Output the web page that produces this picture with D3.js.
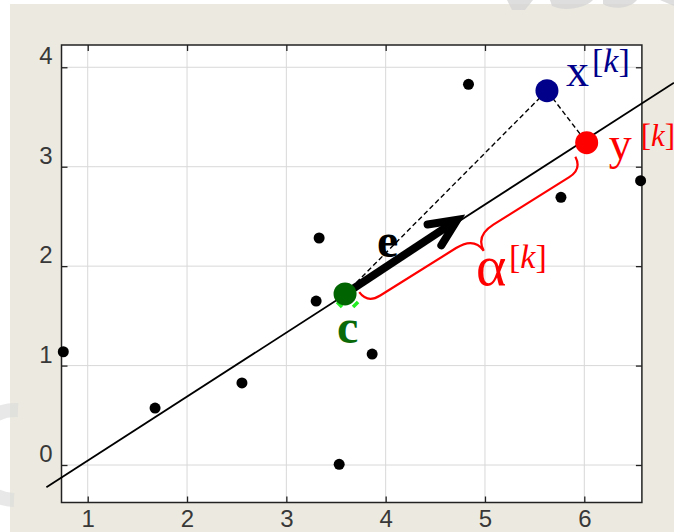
<!DOCTYPE html>
<html><head><meta charset="utf-8">
<script src="https://cdn.jsdelivr.net/npm/d3@7"></script>
<style>html,body{margin:0;padding:0;background:#fff;}svg{display:block;}</style>
</head><body>
<script>
// ---- data ----
const xTicks = [1, 2, 3, 4, 5, 6];
const yTicks = [0, 1, 2, 3, 4];
const xDomain = [0.736, 6.58];
const yDomain = [-0.377, 4.224];
const pointsX = [0.754, 1.678, 2.553, 3.330, 3.300, 3.532, 3.864, 4.834, 5.765, 6.567];
const pointsY = [1.139, 0.573, 0.825, 2.283, 1.649, 0.007, 1.116, 3.829, 2.692, 2.859];
const lineX = [0.584, 6.903];
const lineY = [-0.224, 3.845];
const centerC = [3.591, 1.720];
const pointXk = [5.624, 3.765];
const pointYk = [6.024, 3.242];
const arrowTip = [4.779, 2.504];

const W = 674, H = 532;
const m = {left: 61.5, top: 45, right: 641.9, bottom: 502.5};
const svg = d3.select("body").append("svg").attr("width", W).attr("height", H);

// background
svg.append("rect").attr("x", 0).attr("y", 0).attr("width", W).attr("height", H).attr("fill", "#fff");
svg.append("rect").attr("x", 10).attr("y", 4).attr("width", W - 10).attr("height", H - 4).attr("fill", "#eceae0");
// faint watermark remnants
const wm = svg.append("g").attr("fill", "#d6d6d6").attr("opacity", 0.8);
wm.append("path").attr("d", "M507,0 L533,0 L525,10 L512,10 Z");
wm.append("path").attr("d", "M550,0 L593,0 C585,8 565,12 552,6 Z");
wm.append("path").attr("d", "M603,0 L637,0 C630,9 612,10 603,4 Z");
wm.append("path").attr("d", "M660,0 L674,0 L674,6 Z");
svg.append("path").attr("d", "M18,410 A40,40 0 0 0 14,500").attr("fill", "none")
  .attr("stroke", "#d9d9d9").attr("stroke-width", 14).attr("opacity", 0.6);

const x = d3.scaleLinear().domain(xDomain).range([m.left, m.right]);
const y = d3.scaleLinear().domain(yDomain).range([m.bottom, m.top]);

// plot area
svg.append("rect").attr("x", m.left).attr("y", m.top).attr("width", m.right - m.left)
  .attr("height", m.bottom - m.top).attr("fill", "#fff");

// grid
const grid = svg.append("g").attr("stroke", "#d8d8d8").attr("stroke-width", 1);
grid.selectAll(".gx").data(xTicks).join("line")
  .attr("x1", d => x(d)).attr("x2", d => x(d)).attr("y1", m.top).attr("y2", m.bottom);
grid.selectAll(".gy").data(yTicks).join("line")
  .attr("y1", d => y(d)).attr("y2", d => y(d)).attr("x1", m.left).attr("x2", m.right);

// axes (ticks inward)
const fmt = d3.format("d");
const axB = svg.append("g").attr("transform", `translate(0,${m.bottom})`)
  .call(d3.axisBottom(x).tickValues(xTicks).tickFormat(fmt).tickSize(-6).tickSizeOuter(0));
const axT = svg.append("g").attr("transform", `translate(0,${m.top})`)
  .call(d3.axisTop(x).tickValues(xTicks).tickSize(-6).tickFormat("").tickSizeOuter(0));
const axL = svg.append("g").attr("transform", `translate(${m.left},0)`)
  .call(d3.axisLeft(y).tickValues(yTicks).tickFormat(fmt).tickSize(-6).tickSizeOuter(0));
const axR = svg.append("g").attr("transform", `translate(${m.right},0)`)
  .call(d3.axisRight(y).tickValues(yTicks).tickSize(-6).tickFormat("").tickSizeOuter(0));
[axB, axT, axL, axR].forEach(a => {
  a.attr("font-size", null).attr("font-family", null);
  a.select(".domain").remove();
  a.selectAll(".tick line").attr("stroke", "#222").attr("stroke-width", 1.3);
  a.selectAll("text").attr("fill", "#383838").attr("font-family", "'Liberation Sans', Arial, sans-serif")
    .attr("font-size", 24).style("font-size", "24px");
});
axB.selectAll("text").attr("dy", null).attr("y", 24);
axL.selectAll("text").attr("x", -9).attr("dy", null).attr("y", -3.5).attr("text-anchor", "end");

svg.append("rect").attr("x", m.left).attr("y", m.top).attr("width", m.right - m.left)
  .attr("height", m.bottom - m.top).attr("fill", "none").attr("stroke", "#222").attr("stroke-width", 1.5);

// regression line
svg.append("line").attr("x1", x(lineX[0])).attr("y1", y(lineY[0]))
  .attr("x2", x(lineX[1])).attr("y2", y(lineY[1])).attr("stroke", "#000").attr("stroke-width", 1.8);

// data points
svg.append("g").selectAll("circle").data(pointsX.map((v, i) => [v, pointsY[i]])).join("circle")
  .attr("cx", d => x(d[0])).attr("cy", d => y(d[1])).attr("r", 5.5).attr("fill", "#000");

const cx = x(centerC[0]), cy = y(centerC[1]);
const xkx = x(pointXk[0]), xky = y(pointXk[1]);
const ykx = x(pointYk[0]), yky = y(pointYk[1]);

// dashed lines
svg.append("polyline").attr("points", `${cx},${cy} ${xkx},${xky} ${ykx},${yky}`)
  .attr("fill", "none").attr("stroke", "#000").attr("stroke-width", 1.4).attr("stroke-dasharray", "5,3");

// brace from c to y
{
  const dx = ykx - cx, dy = yky - cy, L = Math.hypot(dx, dy);
  const ux = dx / L, uy = dy / L, nx = -uy, ny = ux; // n points down-right
  const P = (s, d) => [cx + ux * s + nx * d, cy + uy * s + ny * d];
  const s0 = 13, s1 = 268, mid = (s0 + s1) / 2, off = 20, tip = 37;
  const p = d3.path();
  p.moveTo(...P(s0, 6));
  p.quadraticCurveTo(...P(s0 + 1, off), ...P(s0 + 16, off));
  p.lineTo(...P(mid - 22, off));
  p.quadraticCurveTo(...P(mid - 1, off), ...P(mid, tip));
  p.quadraticCurveTo(...P(mid + 1, off), ...P(mid + 22, off));
  p.lineTo(...P(s1 - 16, off));
  p.quadraticCurveTo(...P(s1 - 1, off), ...P(s1, 6));
  svg.append("path").attr("d", p.toString()).attr("fill", "none").attr("stroke", "#ff0000").attr("stroke-width", 2.2);
}

// lime marks under c
svg.append("path").attr("d", `M${cx - 8},${cy + 8} L${cx - 3},${cy + 13} M${cx + 8},${cy + 13} L${cx + 13},${cy + 8}`)
  .attr("stroke", "#22ee22").attr("stroke-width", 3.5).attr("fill", "none");

// arrow e
{
  const tx = x(arrowTip[0]), ty = y(arrowTip[1]);
  const ang = Math.atan2(ty - cy, tx - cx);
  const vx = tx - 7 * Math.cos(ang), vy = ty - 7 * Math.sin(ang);
  svg.append("line").attr("x1", cx).attr("y1", cy).attr("x2", vx - 3 * Math.cos(ang)).attr("y2", vy - 3 * Math.sin(ang))
    .attr("stroke", "#000").attr("stroke-width", 8);
  const a1 = ang + Math.PI - 0.43, a2 = ang + Math.PI + 0.43, al = 30;
  svg.append("polyline")
    .attr("points", `${vx + al * Math.cos(a1)},${vy + al * Math.sin(a1)} ${vx},${vy} ${vx + al * Math.cos(a2)},${vy + al * Math.sin(a2)}`)
    .attr("fill", "none").attr("stroke", "#000").attr("stroke-width", 8)
    .attr("stroke-linejoin", "miter").attr("stroke-linecap", "round");
}

// special points
svg.append("circle").attr("cx", cx).attr("cy", cy).attr("r", 11.5).attr("fill", "#006400");
svg.append("circle").attr("cx", xkx).attr("cy", xky).attr("r", 11.5).attr("fill", "#00008b");
svg.append("circle").attr("cx", ykx).attr("cy", yky).attr("r", 11.5).attr("fill", "#ff0000");

// labels
const serif = "'Liberation Serif', 'Times New Roman', serif";
function label(tx, ty, main, size, color, supX, supY, bold, supSize) {
  const t = svg.append("text").attr("x", tx).attr("y", ty).attr("fill", color)
    .style("font-family", serif).style("font-size", size + "px").text(main);
  if (bold) t.style("font-weight", "bold");
  if (supX !== undefined) {
    const s = svg.append("text").attr("x", supX).attr("y", supY).attr("fill", color)
      .style("font-family", serif).style("font-size", (supSize || 34) + "px");
    s.append("tspan").text("[");
    s.append("tspan").style("font-style", "italic").text("k");
    s.append("tspan").text("]");
  }
}
label(xkx + 19, xky - 5, "x", 46, "#00008b", xkx + 45, xky - 19);
label(ykx + 22, yky + 16, "y", 46, "#ff0000", ykx + 54, yky + 3, false, 31);
label(476, 285, "α", 58, "#ff0000", 509, 268);
label(377, 257, "e", 48, "#000", undefined, undefined, true);
label(337, 343, "c", 48, "#0a6a0a", undefined, undefined, true);
</script>
</body></html>
